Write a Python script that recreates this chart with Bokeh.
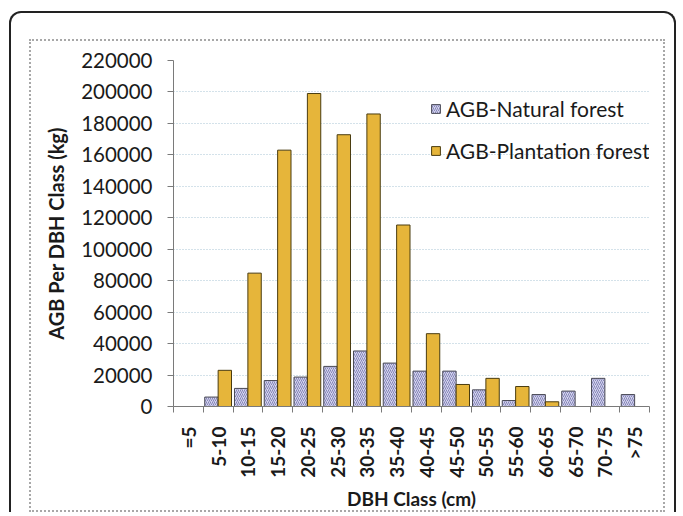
import numpy as np
from bokeh.plotting import figure
from bokeh.models import (ColumnDataSource, Range1d, FixedTicker, SingleIntervalTicker,
                          BasicTickFormatter, Legend, LegendItem)
from bokeh.layouts import column
from bokeh.embed import file_html
from bokeh.resources import INLINE

categories = ["=5", "5-10", "10-15", "15-20", "20-25", "25-30", "30-35", "35-40",
              "40-45", "45-50", "50-55", "55-60", "60-65", "65-70", "70-75", ">75"]
natural = [0, 6000, 11500, 16500, 18700, 25500, 35300, 27600,
           22500, 22500, 10600, 3800, 7600, 9800, 17900, 7600]
plantation = [0, 23000, 84800, 163000, 199000, 172800, 186000, 115400,
              46300, 14000, 17900, 12700, 3000, 0, 0, 0]
y_ticks_step = 20000
y_max = 220000

FONT = "Lato"
idx = np.arange(len(categories))
src = ColumnDataSource(dict(
    xn=idx + 0.275, xp=idx + 0.725, natural=natural, plantation=plantation))

p = figure(width=636, height=473, x_range=Range1d(0, len(categories)),
           y_range=Range1d(0, y_max), output_backend="svg", toolbar_location=None,
           min_border_left=142, min_border_top=19, min_border_right=18,
           min_border_bottom=108)
p.styles = {"border": "2px dotted #a8a8a8"}
p.outline_line_color = None
p.background_fill_color = "white"
p.border_fill_color = "white"

rn = p.vbar(x="xn", top="natural", width=0.45, source=src, fill_color="#d4d4ee",
            hatch_pattern="/", hatch_color="#8686b8", hatch_scale=4, hatch_weight=1,
            line_color="#4a4a55", line_width=1)
rp = p.vbar(x="xp", top="plantation", width=0.45, source=src, fill_color="#e6b53a",
            line_color="#4a3c10", line_width=1)

# x axis
xt = FixedTicker(ticks=list(idx + 0.5), minor_ticks=list(range(len(categories) + 1)))
p.xaxis.ticker = xt
p.xaxis.major_label_overrides = {float(i + 0.5): c for i, c in enumerate(categories)}
p.xaxis.major_label_orientation = np.pi / 2
p.xaxis.major_tick_out = 0
p.xaxis.major_tick_in = 0
p.xaxis.minor_tick_out = 6
p.xaxis.minor_tick_in = 0
p.xaxis.major_label_text_font = FONT
p.xaxis.major_label_text_font_style = "bold"
p.xaxis.major_label_text_font_size = "19px"
p.xaxis.major_label_text_color = "#1a1a1a"
p.xaxis.major_label_standoff = 14
p.xaxis.axis_label = "DBH Class (cm)"
p.xaxis.axis_label_text_font = FONT
p.xaxis.axis_label_text_font_style = "bold"
p.xaxis.axis_label_text_font_size = "19px"
p.xaxis.axis_label_text_color = "#1a1a1a"
p.xaxis.axis_label_standoff = 6
p.xaxis.axis_line_color = "#7a7a7a"
p.xaxis.minor_tick_line_color = "#7a7a7a"

# y axis
p.yaxis.ticker = SingleIntervalTicker(interval=y_ticks_step, num_minor_ticks=0)
p.yaxis.formatter = BasicTickFormatter(use_scientific=False)
p.yaxis.major_tick_out = 6
p.yaxis.major_tick_in = 0
p.yaxis.minor_tick_line_color = None
p.yaxis.major_label_text_font = FONT
p.yaxis.major_label_text_font_size = "20.5px"
p.yaxis.major_label_text_color = "#1a1a1a"
p.yaxis.major_label_standoff = 15
p.yaxis.axis_label = "AGB Per DBH Class (kg)"
p.yaxis.axis_label_text_font = FONT
p.yaxis.axis_label_text_font_style = "bold"
p.yaxis.axis_label_text_font_size = "20px"
p.yaxis.axis_label_text_color = "#1a1a1a"
p.yaxis.axis_label_standoff = 10
p.yaxis.axis_line_color = "#7a7a7a"
p.yaxis.major_tick_line_color = "#7a7a7a"

p.xgrid.grid_line_color = None
p.ygrid.grid_line_color = "#a8c4d4"
p.ygrid.grid_line_dash = "1 2"
p.ygrid.grid_line_width = 1

legend = Legend(items=[LegendItem(label="AGB-Natural forest", renderers=[rn]),
                       LegendItem(label="AGB-Plantation forest", renderers=[rp])],
                location=(257, 243), padding=0, margin=0, spacing=17,
                glyph_width=11, glyph_height=11, label_standoff=5,
                label_text_font=FONT, label_text_font_size="21px",
                label_text_color="#1a1a1a",
                background_fill_alpha=0, border_line_alpha=0)
p.add_layout(legend, "center")

lay = column(p, styles={"border": "2px solid #222", "border-bottom": "none",
                        "border-radius": "12px 12px 0 0",
                        "padding": "26px 9px 0 18px", "margin": "11px 0 0 9px"})

open("out.html", "w").write(file_html(lay, INLINE))
